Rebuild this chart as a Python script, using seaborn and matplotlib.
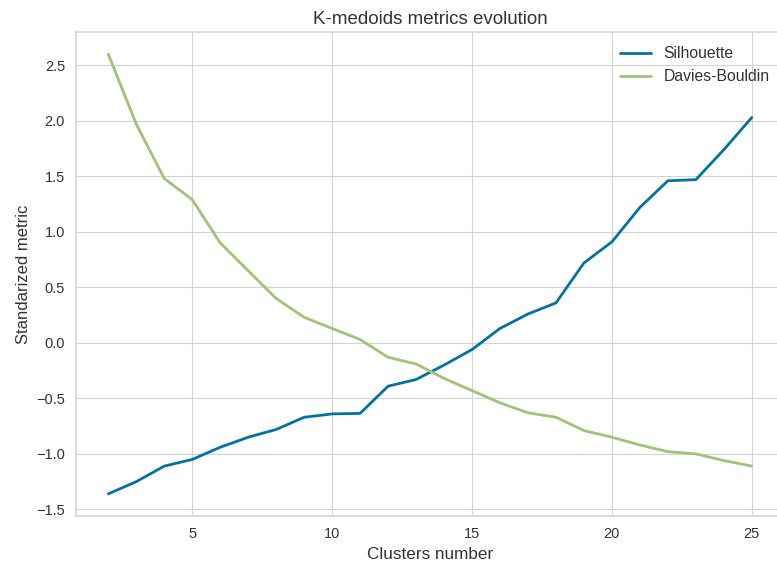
import numpy as np
import pandas as pd
import matplotlib
matplotlib.use('Agg')
import matplotlib.pyplot as plt
import seaborn as sns

#-------------------------------------------------------
l_k=list(range(2, 26))
l_sil=[-1.36, -1.25, -1.11, -1.05, -0.94, -0.85, -0.78, -0.67, -0.64, -0.635,
	-0.39, -0.33, -0.20, -0.06, 0.13, 0.26, 0.36, 0.72, 0.91, 1.22,
	1.46, 1.47, 1.74, 2.03]
l_db=[2.60, 1.97, 1.48, 1.29, 0.90, 0.65, 0.40, 0.23, 0.13, 0.03,
	-0.13, -0.19, -0.32, -0.43, -0.54, -0.63, -0.67, -0.79, -0.85, -0.92,
	-0.98, -1.00, -1.06, -1.11]
l_name=['Silhouette', 'Davies-Bouldin']
cmap=['#0272a2', '#9fc377']

#-------------------------------------------------------
sns.set_style('whitegrid', {'grid.color': '#d3d3d3', 'axes.edgecolor': '#d3d3d3',
	'text.color': '#333333', 'axes.labelcolor': '#333333',
	'xtick.color': '#333333', 'ytick.color': '#333333'})
plt.rcParams['font.family']=['Liberation Sans', 'DejaVu Sans']

df=pd.DataFrame({'k': l_k, l_name[0]: l_sil, l_name[1]: l_db})
df=df.melt(id_vars='k', var_name='metric', value_name='val')

#plot
fig, ax=plt.subplots(figsize=(7.77, 5.65), dpi=100)
sns.lineplot(data=df, x='k', y='val', hue='metric', palette=cmap, linewidth=2, ax=ax)
#adjust
ax.set_title('K-medoids metrics evolution', fontsize=13.5)
ax.set_xlabel('Clusters number', fontsize=12.3)
ax.set_ylabel('Standarized metric', fontsize=12)
ax.tick_params(labelsize=10.5, length=0, pad=8)
ax.legend(title=None, frameon=False, loc='upper right', fontsize=11.3)
for s in ax.spines.values():
	s.set_linewidth(1.2)
plt.subplots_adjust(left=0.098, right=1.009, top=0.943, bottom=0.087)
#save
plt.savefig('out.png', dpi=100)
plt.close()
